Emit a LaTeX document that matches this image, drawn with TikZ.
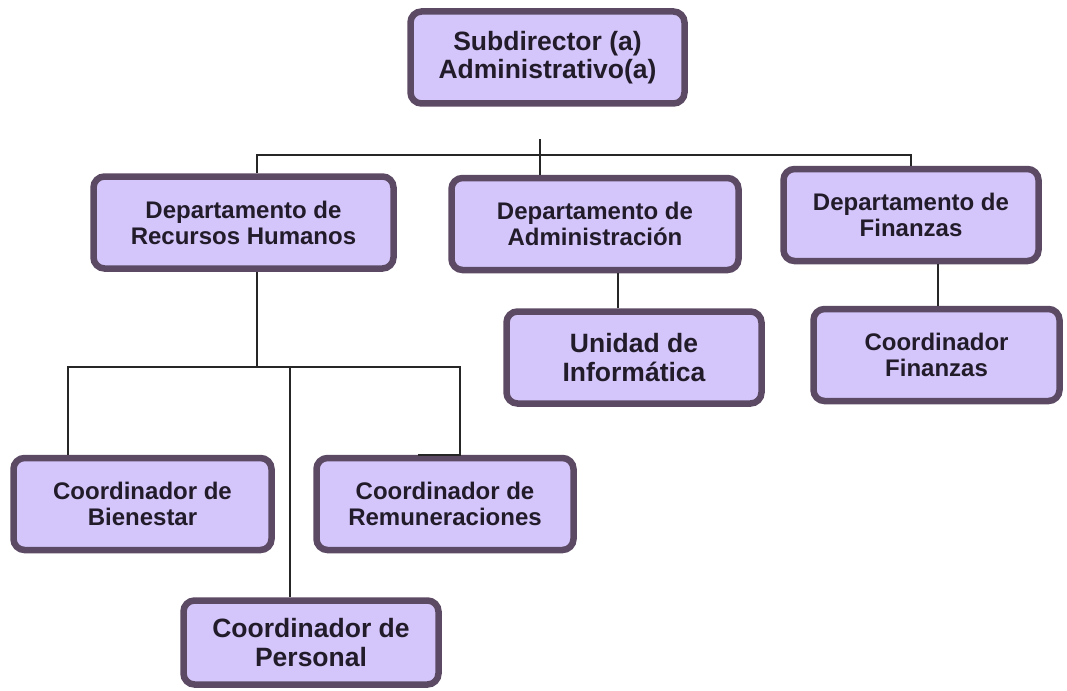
\documentclass[tikz,border=0pt]{standalone}
\usepackage{fontspec}
\setmainfont{Liberation Sans}
\usepackage{xcolor}
\usetikzlibrary{positioning}
\definecolor{boxfill}{RGB}{212,198,250}
\definecolor{boxline}{RGB}{92,74,100}
\definecolor{boxtext}{RGB}{34,27,42}

\begin{document}
\begin{tikzpicture}[
  x=1pt,y=-1pt,
  box/.style={draw=boxline,line width=6.5pt,fill=boxfill,rounded corners=11pt,minimum height=92pt,align=center,text=boxtext,font=\bfseries\fontsize{24}{26}\selectfont},
  bigbox/.style={box,font=\bfseries\fontsize{26.5}{28.5}\selectfont},
  conn/.style={draw=black!85,line width=1.8pt}
]
\useasboundingbox (0,0) rectangle (1067,690);
\node[bigbox,minimum width=274pt] (sub) at (547.5,57.5) {Subdirector (a)\\Administrativo(a)};
\node[box,minimum width=300pt] (rrhh) at (243.5,222.5) {Departamento de\\Recursos Humanos};
\node[box,minimum width=287pt] (adm) at (595,224) {Departamento de\\Administración};
\node[box,minimum width=255pt] (fin) at (911,215) {Departamento de\\Finanzas};
\node[bigbox,minimum width=255pt] (inf) at (634,357.5) {Unidad de\\Informática};
\node[box,minimum width=246pt] (cfin) at (936.5,355) {Coordinador\\Finanzas};
\node[box,minimum width=258pt] (bien) at (142.5,504) {Coordinador de\\Bienestar};
\node[box,minimum width=257pt] (rem) at (445,504) {Coordinador de\\Remuneraciones};
\node[bigbox,minimum width=255pt,minimum height=84pt] (pers) at (311,642.5) {Coordinador de\\Personal};

\coordinate (bus) at (540,155);
\coordinate (tick) at (540,139);
\coordinate (hub) at (257,367);
\draw[conn] ([xshift=13.5pt]rrhh.north) -- ([xshift=13.5pt]rrhh.north |- bus) -- (fin.north |- bus) -- (fin.north);
\draw[conn] (tick) -- (tick |- adm.north);
\draw[conn] ([xshift=-16pt]inf.north) -- ([xshift=-16pt]inf.north |- adm.south);
\draw[conn] ([xshift=1.5pt]cfin.north) -- ([xshift=1.5pt]cfin.north |- fin.south);
\draw[conn] ([xshift=13.5pt]rrhh.south) -- (hub);
\draw[conn] (hub) -| ([xshift=-74.5pt]bien.north);
\draw[conn] (hub) -| ([xshift=15pt]rem.north) -- ([xshift=-27pt]rem.north);
\draw[conn] ([xshift=-21pt]pers.north) -- ([xshift=-21pt]pers.north |- hub);
\end{tikzpicture}
\end{document}
